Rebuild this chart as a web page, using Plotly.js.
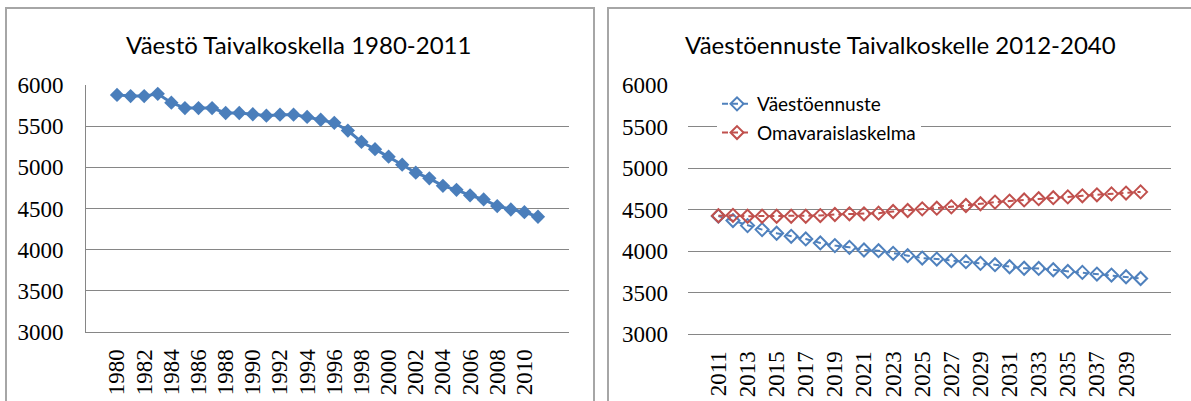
<!DOCTYPE html>
<html>
<head>
<meta charset="utf-8">
<script src="https://cdn.plot.ly/plotly-3.0.1.min.js"></script>
<style>html,body{margin:0;padding:0;background:#fff;}#chart{width:1191px;height:401px;}</style>
</head>
<body>
<div id="chart"></div>
<script>
// Left chart: population 1980-2011
const yearsHist = ["1980","1981","1982","1983","1984","1985","1986","1987","1988","1989","1990","1991","1992","1993","1994","1995","1996","1997","1998","1999","2000","2001","2002","2003","2004","2005","2006","2007","2008","2009","2010","2011"];
const popHist = [5880,5865,5865,5893,5785,5720,5720,5720,5660,5660,5645,5628,5640,5640,5612,5578,5540,5447,5308,5221,5130,5032,4935,4866,4775,4727,4660,4610,4530,4488,4455,4400];

// Right chart: forecasts 2011-2040
const yearsFc = ["2011","2012","2013","2014","2015","2016","2017","2018","2019","2020","2021","2022","2023","2024","2025","2026","2027","2028","2029","2030","2031","2032","2033","2034","2035","2036","2037","2038","2039","2040"];
const forecast = [4420,4367,4306,4258,4214,4177,4145,4097,4065,4044,4012,4004,3972,3944,3915,3903,3883,3871,3851,3835,3810,3792,3790,3774,3754,3742,3722,3710,3690,3669];
const selfSufficiency = [4425,4430,4419,4419,4419,4419,4419,4427,4440,4448,4448,4456,4476,4488,4508,4516,4532,4548,4569,4589,4601,4615,4630,4642,4652,4665,4677,4688,4698,4712];

const title1 = "Väestö Taivalkoskella 1980-2011";
const title2 = "Väestöennuste Taivalkoskelle 2012-2040";
const seriesNames = ["Väestöennuste","Omavaraislaskelma"];

const W = 1191, H = 401;
const px = v => v / W;
const py = v => 1 - v / H;

const evenTicks = arr => arr.filter((_, i) => i % 2 === 0);

const traces = [
  {
    x: yearsHist, y: popHist, xaxis: 'x', yaxis: 'y', type: 'scatter', mode: 'lines+markers',
    line: {color: '#4a7ebb', width: 3},
    marker: {symbol: 'diamond', size: 11, color: '#4a7ebb'},
    showlegend: false
  },
  {
    x: yearsFc, y: forecast, xaxis: 'x2', yaxis: 'y2', type: 'scatter', mode: 'lines+markers',
    name: seriesNames[0], legendgroup: 'a',
    line: {color: '#4f81bd', width: 2, dash: '6px,4px'},
    marker: {symbol: 'diamond-open', size: 10, color: '#4f81bd', line: {width: 2, color: '#4f81bd'}}
  },
  {
    x: yearsFc, y: selfSufficiency, xaxis: 'x2', yaxis: 'y2', type: 'scatter', mode: 'lines+markers',
    name: seriesNames[1], legendgroup: 'b',
    line: {color: '#c0504d', width: 2, dash: '6px,4px'},
    marker: {symbol: 'diamond-open', size: 10, color: '#c0504d', line: {width: 2, color: '#c0504d'}}
  }
];

const tickFont = {family: 'Liberation Serif, Times New Roman, serif', size: 23, color: '#000'};
const titleFont = {family: 'Lato, Open Sans, sans-serif', size: 24, color: '#000'};

const layout = {
  width: W, height: H,
  margin: {l: 0, r: 0, t: 0, b: 0},
  paper_bgcolor: '#fff', plot_bgcolor: '#fff',
  showlegend: true,
  legend: {
    x: px(717), y: py(85), xanchor: 'left', yanchor: 'top',
    bgcolor: '#fff', font: {family: 'Lato, Open Sans, sans-serif', size: 19, color: '#000'},
    traceorder: 'grouped', tracegroupgap: 1
  },
  xaxis: {
    domain: [px(86), px(569)], anchor: 'y', type: 'category',
    tickmode: 'array', tickvals: evenTicks(yearsHist), ticktext: evenTicks(yearsHist),
    tickangle: -90, tickfont: tickFont, showgrid: false, ticks: '',
    showline: true, linecolor: '#868686', linewidth: 1, zeroline: false,
    ticklabelstandoff: 7
  },
  yaxis: {
    domain: [py(332), py(85)], anchor: 'x', range: [3000, 6000], dtick: 500,
    tickfont: tickFont, gridcolor: '#868686', gridwidth: 1,
    showline: true, linecolor: '#868686', linewidth: 1, zeroline: false, ticks: '',
    ticklabelstandoff: 17
  },
  xaxis2: {
    domain: [px(688), px(1171)], anchor: 'y2', type: 'category',
    tickmode: 'array', tickvals: evenTicks(yearsFc), ticktext: evenTicks(yearsFc),
    tickangle: -90, tickfont: tickFont, showgrid: false, ticks: '',
    showline: true, linecolor: '#868686', linewidth: 1, zeroline: false,
    ticklabelstandoff: 7
  },
  yaxis2: {
    domain: [py(334), py(85)], anchor: 'x2', range: [3000, 6000], dtick: 500,
    tickfont: tickFont, gridcolor: '#868686', gridwidth: 1,
    showline: false, zeroline: false, ticks: '',
    ticklabelstandoff: 19
  },
  shapes: [
    {type: 'rect', xref: 'paper', yref: 'paper', x0: px(6), x1: px(594), y0: py(420), y1: py(8),
     line: {color: '#a6a6a6', width: 2}, layer: 'below'},
    {type: 'rect', xref: 'paper', yref: 'paper', x0: px(608), x1: px(1210), y0: py(420), y1: py(8),
     line: {color: '#a6a6a6', width: 2}, layer: 'below'}
  ],
  annotations: [
    {text: title1, xref: 'paper', yref: 'paper', x: px(298), y: py(44), xanchor: 'center', yanchor: 'middle',
     showarrow: false, font: titleFont},
    {text: title2, xref: 'paper', yref: 'paper', x: px(900), y: py(44), xanchor: 'center', yanchor: 'middle',
     showarrow: false, font: titleFont}
  ]
};

Plotly.newPlot('chart', traces, layout, {displayModeBar: false, staticPlot: true});
</script>
</body>
</html>
